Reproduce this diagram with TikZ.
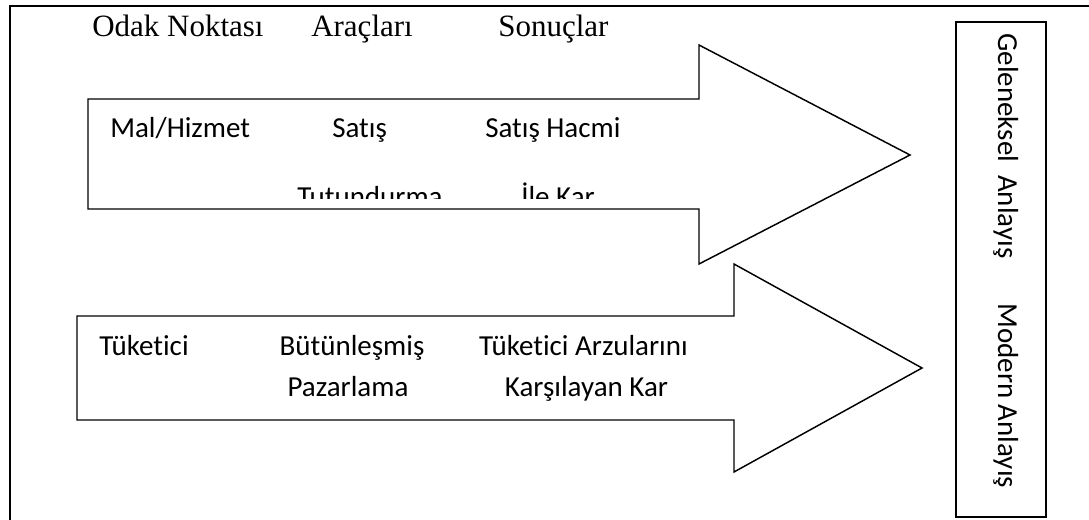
\documentclass[tikz,border=0pt]{standalone}
\usepackage{fontspec}
\setmainfont{Liberation Serif}
\newfontfamily\calibrifont[Ligatures=NoCommon]{Carlito}
\usetikzlibrary{positioning}

\tikzset{
  headtext/.style={font=\fontsize{23.25}{28}\selectfont, inner sep=0pt, anchor=base west},
  bodytext/.style={font=\calibrifont\fontsize{21.75}{30}\selectfont, inner sep=0pt, anchor=base west},
  midtext/.style={bodytext, anchor=base},
  sidetext/.style={bodytext, rotate=-90, anchor=base west},
  outline/.style={draw=black, line width=1.1pt, line join=miter},
}

\begin{document}
\begin{tikzpicture}[x=0.75pt,y=-0.75pt]
\useasboundingbox (0,0) rectangle (1089,520);
% frame
\draw[line width=1.6pt] (10,520) -- (10,6) -- (1089,6);
% column titles
\node[headtext] (odak) at (92,37) {Odak Noktası};
\node[headtext] (arac) at (311,37) {Araçları};
\node[headtext] (sonuc) at (498,37) {Sonuçlar};
% traditional arrow
\draw[outline] (88,99) -- (699,99) -- (699,45) -- (910,155) -- (699,264) -- (699,209) -- (88,209) -- cycle;
\node[bodytext] (malhizmet) at (110,138) {Mal/Hizmet};
\node[bodytext] (satis) at (332,138) {Satış};
\node[bodytext] (hacim) at (485,138) {Satış Hacmi};
\begin{scope}
\clip (89,100) rectangle (698,199);
\node[bodytext] (tutundurma) at (297,207) {Tutundurma};
\node[bodytext] (ilekar) at (521,207) {İle Kar};
\end{scope}
% modern arrow
\draw[outline] (77,316) -- (734,316) -- (734,264) -- (922,368) -- (734,472) -- (734,420) -- (77,420) -- cycle;
\node[bodytext] (tuketici) at (99,355) {Tüketici};
\node[midtext] (butun) at (352,355) {Bütünleşmiş};
\node[midtext] (pazar) at (348,396) {Pazarlama};
\node[midtext] (arzu) at (583.5,355) {Tüketici Arzularını};
\node[midtext] (karsi) at (586.5,396) {Karşılayan Kar};
% side box
\draw[line width=1pt] (956,22) rectangle (1046,517);
\node[sidetext] (geleneksel) at (998,33) {Geleneksel~~Anlayış};
\node[sidetext] (modern) at (998,303) {Modern Anlayış};
\end{tikzpicture}
\end{document}
